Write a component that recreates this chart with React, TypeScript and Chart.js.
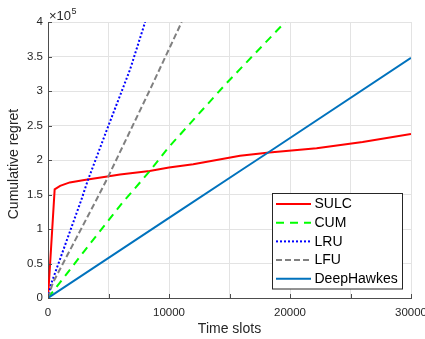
import React, { useEffect, useRef } from "react";
import { Chart, registerables } from "chart.js";

Chart.register(...registerables);

// Cumulative regret in units of 10^5, sampled along the time-slot axis
const sulcX = [0, 550, 1000, 1800, 3000, 4900, 5950, 7000, 8400, 10000, 12000, 15870, 18290, 22200, 26000, 30000];
const sulcY = [0, 1.575, 1.625, 1.675, 1.71, 1.76, 1.79, 1.81, 1.84, 1.89, 1.94, 2.06, 2.11, 2.17, 2.26, 2.377];

const cumX = [0, 3000, 6220, 8370, 10000, 14630, 19600];
const cumY = [0, 0.68, 1.395, 1.83, 2.19, 3.09, 4.0];

const lruX = [0, 250, 2750, 3280, 5000, 6780, 8030];
const lruY = [0, 0.2, 1.42, 1.7, 2.5, 3.31, 4.0];

const lfuX = [0, 400, 3990, 4980, 8430, 11050];
const lfuY = [0, 0.22, 1.42, 1.76, 3.02, 4.0];

const deepX = [0, 10910, 15870, 18290, 30000];
const deepY = [0, 1.266, 1.84, 2.12, 3.48];

const seriesNames = ["SULC", "CUM", "LRU", "LFU", "DeepHawkes"];
const seriesColors = ["#ff0000", "#00ff00", "#0000ff", "#808080", "#0072bd"];
const seriesDashes: number[][] = [[], [8, 6], [2, 2], [6, 3], []];

const xTickValues = [0, 5000, 10000, 15000, 20000, 25000, 30000];
const yTickValues = [0, 0.5, 1, 1.5, 2, 2.5, 3, 3.5, 4];

const FONT = "'Liberation Sans', Arial, Helvetica, sans-serif";

function toPoints(xs: number[], ys: number[]) {
  return xs.map((x, i) => ({ x, y: ys[i] }));
}

const overlayPlugin = {
  id: "overlay",
  afterDraw(chart: any) {
    const ctx = chart.ctx as CanvasRenderingContext2D;
    const area = chart.chartArea;
    const xs = chart.scales.x;
    const ys = chart.scales.y;
    ctx.save();

    // inward tick marks on both axes
    ctx.strokeStyle = "#4d4d4d";
    ctx.lineWidth = 1;
    xTickValues.forEach((v) => {
      const px = Math.round(xs.getPixelForValue(v)) + 0.5;
      ctx.beginPath();
      ctx.moveTo(px, area.bottom);
      ctx.lineTo(px, area.bottom - 4);
      ctx.stroke();
    });
    yTickValues.forEach((v) => {
      const py = Math.round(ys.getPixelForValue(v)) + 0.5;
      ctx.beginPath();
      ctx.moveTo(area.left, py);
      ctx.lineTo(area.left + 4, py);
      ctx.stroke();
    });

    // exponent label
    ctx.fillStyle = "#262626";
    ctx.textBaseline = "alphabetic";
    ctx.textAlign = "left";
    ctx.font = `13px ${FONT}`;
    ctx.fillText("×10", area.left + 1, 19.5);
    const w = ctx.measureText("×10").width;
    ctx.font = `9px ${FONT}`;
    ctx.fillText("5", area.left + 1 + w + 0.5, 14);

    // axis titles
    ctx.font = `14px ${FONT}`;
    ctx.textAlign = "center";
    ctx.textBaseline = "middle";
    ctx.fillText("Time slots", (area.left + area.right) / 2, 329);
    ctx.save();
    ctx.translate(14, (area.top + area.bottom) / 2 + 4);
    ctx.rotate(-Math.PI / 2);
    ctx.fillText("Cumulative regret", 0, 0);
    ctx.restore();

    // legend
    const lx = 272.5, ly = 193.5, lw = 130, lh = 95.5;
    ctx.fillStyle = "#ffffff";
    ctx.fillRect(lx, ly, lw, lh);
    ctx.strokeStyle = "#262626";
    ctx.lineWidth = 1;
    ctx.strokeRect(lx, ly, lw, lh);
    ctx.font = `14px ${FONT}`;
    ctx.textAlign = "left";
    ctx.textBaseline = "middle";
    seriesNames.forEach((name, i) => {
      const y = 204 + i * 18.7;
      ctx.strokeStyle = seriesColors[i];
      ctx.lineWidth = 2;
      ctx.setLineDash(seriesDashes[i]);
      ctx.beginPath();
      ctx.moveTo(276, y);
      ctx.lineTo(311, y);
      ctx.stroke();
      ctx.setLineDash([]);
      ctx.fillStyle = "#000000";
      ctx.fillText(name, 314.5, y + 0.5);
    });
    ctx.restore();
  },
};

export default function App() {
  const canvasRef = useRef<HTMLCanvasElement | null>(null);

  useEffect(() => {
    const canvas = canvasRef.current;
    if (!canvas) return;
    const data = [
      toPoints(sulcX, sulcY),
      toPoints(cumX, cumY),
      toPoints(lruX, lruY),
      toPoints(lfuX, lfuY),
      toPoints(deepX, deepY),
    ];
    // draw order: baseline methods first, proposed method on top
    const order = [4, 3, 2, 1, 0];
    const chart = new Chart(canvas, {
      type: "line",
      data: {
        datasets: order.map((i) => ({
          label: seriesNames[i],
          data: data[i],
          borderColor: seriesColors[i],
          borderWidth: 2,
          borderDash: seriesDashes[i],
          pointRadius: 0,
          tension: 0,
          fill: false,
        })),
      },
      options: {
        responsive: false,
        animation: false,
        events: [],
        layout: { padding: { top: 22, right: 14, left: 0, bottom: 0 } },
        plugins: { legend: { display: false }, tooltip: { enabled: false } },
        scales: {
          x: {
            type: "linear",
            min: 0,
            max: 30000,
            afterBuildTicks: (scale: any) => {
              scale.ticks = xTickValues.map((v) => ({ value: v }));
            },
            afterFit: (scale: any) => {
              scale.height = 41;
              scale.paddingLeft = 0;
              scale.paddingRight = 0;
            },
            ticks: {
              autoSkip: false,
              maxRotation: 0,
              padding: 8,
              color: "#262626",
              font: { family: FONT, size: 11.5 },
              callback: (v: any) => (Number(v) % 10000 === 0 ? String(v) : ""),
            },
            grid: { color: "#e3e3e3", drawTicks: false },
            border: { color: "#4d4d4d", width: 1 },
          },
          y: {
            type: "linear",
            min: 0,
            max: 4,
            afterBuildTicks: (scale: any) => {
              scale.ticks = yTickValues.map((v) => ({ value: v }));
            },
            afterFit: (scale: any) => {
              scale.width = 48;
              scale.paddingTop = 0;
              scale.paddingBottom = 0;
            },
            ticks: {
              autoSkip: false,
              padding: 5,
              color: "#262626",
              font: { family: FONT, size: 11.5 },
              callback: (v: any) => String(v),
            },
            grid: { color: "#e3e3e3", drawTicks: false },
            border: { color: "#4d4d4d", width: 1 },
          },
        },
      },
      plugins: [overlayPlugin],
    });
    return () => chart.destroy();
  }, []);

  return (
    <div style={{ position: "absolute", left: 0, top: 0, width: 425, height: 339, background: "#fff" }}>
      <canvas ref={canvasRef} width={425} height={339} />
    </div>
  );
}
